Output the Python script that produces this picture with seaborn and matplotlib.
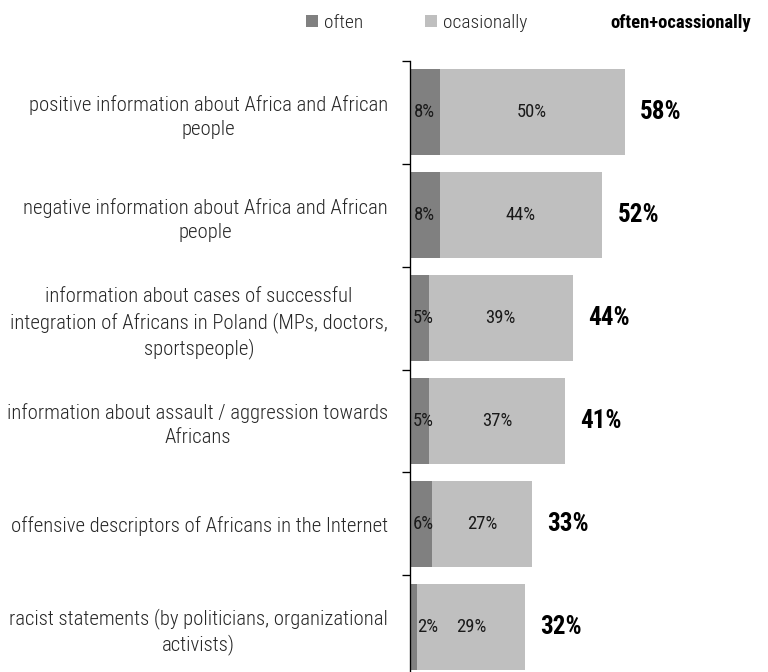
import matplotlib
matplotlib.use("Agg")
import matplotlib.pyplot as plt
from matplotlib.patches import Patch
from matplotlib.ticker import FixedLocator
import pandas as pd
import seaborn as sns

categories = [
    "positive information about Africa and African\npeople",
    "negative information about Africa and African\npeople",
    "information about cases of successful\nintegration of Africans in Poland (MPs, doctors,\nsportspeople)",
    "information about assault / aggression towards\nAfricans",
    "offensive descriptors of Africans in the Internet",
    "racist statements (by politicians, organizational\nactivists)",
]
often = [8, 8, 5, 5, 6, 2]
occasionally = [50, 44, 39, 37, 27, 29]
total_labels = [58, 52, 44, 41, 33, 32]

C_OFTEN = "#808080"
C_OCC = "#bfbfbf"
TXT = "#262626"

sns.set_theme(style="white")
plt.rcParams["font.family"] = ["Roboto Condensed", "DejaVu Sans"]

df = pd.DataFrame({"category": categories, "often": often, "occasionally": occasionally})
df["both"] = df["often"] + df["occasionally"]

W, H = 768, 672
fig = plt.figure(figsize=(W / 96, H / 96), dpi=96)
px_per_pct = 3.7
xmax = 95
ax = fig.add_axes([410 / W, (H - 678) / H, px_per_pct * xmax / W, 617 / H])

# stacked bars: full length in the light shade, the "often" part over it
sns.barplot(data=df, y="category", x="both", order=categories, color=C_OCC,
            saturation=1, width=0.835, orient="h", ax=ax, linewidth=0)
sns.barplot(data=df, y="category", x="often", order=categories, color=C_OFTEN,
            saturation=1, width=0.835, orient="h", ax=ax, linewidth=0)

ax.set_xlim(0, xmax)
ax.set_ylim(len(categories) - 0.5, -0.5)
ax.set_xlabel("")
ax.set_ylabel("")
ax.set_xticks([])
for s in ["top", "right", "bottom"]:
    ax.spines[s].set_visible(False)
ax.spines["left"].set_color("black")
ax.spines["left"].set_linewidth(1.0)

# category labels centred on bars, tick marks between categories
ax.set_yticks(range(len(categories)))
ax.set_yticklabels(categories, fontsize=15.5, fontweight="light", color=TXT,
                   multialignment="center", linespacing=1.32)
ax.tick_params(axis="y", which="major", length=0, pad=16.5)
ax.yaxis.set_minor_locator(FixedLocator([i - 0.5 for i in range(len(categories) + 1)]))
ax.tick_params(axis="y", which="minor", length=6, width=1.0, color="black",
               direction="out", left=True)

# segment value labels
VAL = "#1a1a1a"
for i, (o, c) in enumerate(zip(often, occasionally)):
    if o >= 4:
        ax.text(max(o / 2, 3.7), i, f"{o}%", ha="center", va="center",
                fontsize=14, color=VAL)
    else:
        ax.text(o, i, f"{o}%", ha="left", va="center", fontsize=14, color=VAL)
    ax.text(o + c / 2, i, f"{c}%", ha="center", va="center", fontsize=14,
            color=VAL)
    ax.annotate(f"{total_labels[i]}%", xy=(o + c, i), xytext=(11.25, 0),
                textcoords="offset points", ha="left", va="center",
                fontsize=18.8, fontweight="bold", color="black")

# legend across the top
handles = [Patch(facecolor=C_OFTEN, edgecolor="none"),
           Patch(facecolor=C_OCC, edgecolor="none")]
fig.legend(handles, ["often", "ocasionally"], loc="center left",
           bbox_to_anchor=(306 / W, 1 - 23 / H), ncol=2, frameon=False,
           prop={"family": "Roboto Condensed", "weight": "light", "size": 14.5},
           handlelength=0.62, handleheight=0.62, handletextpad=0.3,
           columnspacing=3.2, borderaxespad=0, borderpad=0,
           labelcolor=TXT)
fig.text(610 / W, 1 - 23 / H, "often+ocassionally", ha="left", va="center",
         fontsize=14, fontweight="bold", color="black")

fig.savefig("out.png", dpi=96)
